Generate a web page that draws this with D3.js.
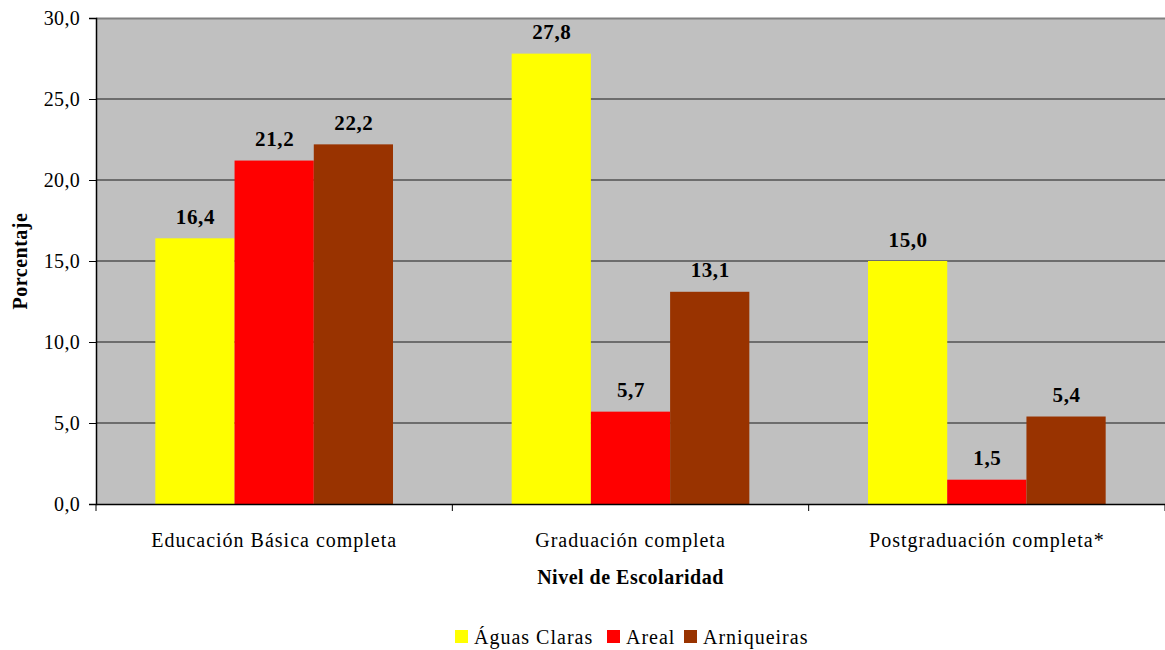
<!DOCTYPE html>
<html>
<head>
<meta charset="utf-8">
<script src="https://cdn.jsdelivr.net/npm/d3@7"></script>
<style>
  body { margin: 0; background: #fff; }
  svg text { font-family: 'Liberation Serif', 'Times New Roman', Times, serif; fill: #000; }
</style>
</head>
<body>
<div id="chart"></div>
<script>
// Datos
const categorias = ['Educación Básica completa', 'Graduación completa', 'Postgraduación completa*'];
const series = ['Águas Claras', 'Areal', 'Arniqueiras'];
const valores = [
  [16.4, 21.2, 22.2],
  [27.8, 5.7, 13.1],
  [15.0, 1.5, 5.4]
];
const ticksY = [0, 5, 10, 15, 20, 25, 30];
const colores = ['#FFFF00', '#FF0000', '#993300'];

const FUENTE = "'Liberation Serif', 'Times New Roman', Times, serif";
const W = 1165, H = 650;
const margin = {top: 18, right: 0, bottom: 146, left: 96};
const width = W - margin.left - margin.right,
      height = H - margin.top - margin.bottom;

const fmt = v => v.toFixed(1).replace('.', ',');

let svg = d3.select('#chart').append('svg')
  .attr('width', W).attr('height', H)
  .attr('font-family', FUENTE);

let g = svg.append('g')
  .attr('transform', 'translate(' + margin.left + ',' + margin.top + ')');

let y = d3.scaleLinear().domain([0, 30]).range([height, 0]);
let x0 = d3.scaleBand().domain(categorias).range([0, width]).paddingInner(0).paddingOuter(0);
let x1 = d3.scaleBand().domain(series).range([x0.bandwidth() * 0.1665, x0.bandwidth() * 0.8335]);

// fondo
g.append('rect').attr('width', width).attr('height', height).attr('fill', '#C0C0C0');

// rejilla
g.selectAll('.grid').data(ticksY.filter(d => d > 0 && d < 30)).enter()
  .append('line')
  .attr('x1', 0).attr('x2', width)
  .attr('y1', d => y(d)).attr('y2', d => y(d))
  .attr('stroke', '#1a1a1a').attr('stroke-width', 1);

// borde superior
g.append('line').attr('x1', 0).attr('x2', width).attr('y1', 0.5).attr('y2', 0.5)
  .attr('stroke', '#808080').attr('stroke-width', 2);

// barras
let grupos = g.selectAll('.grupo').data(valores).enter().append('g')
  .attr('transform', (d, i) => 'translate(' + x0(categorias[i]) + ',0)');

grupos.selectAll('rect').data(d => d.map((v, j) => ({v: v, s: series[j], j: j}))).enter()
  .append('rect')
  .attr('x', d => x1(d.s))
  .attr('y', d => y(d.v))
  .attr('width', x1.bandwidth())
  .attr('height', d => height - y(d.v))
  .attr('fill', d => colores[d.j]);

grupos.selectAll('text').data(d => d.map((v, j) => ({v: v, s: series[j]}))).enter()
  .append('text')
  .attr('x', d => x1(d.s) + x1.bandwidth() / 2 + 0.5)
  .attr('y', d => y(d.v) - 14.5)
  .attr('text-anchor', 'middle')
  .attr('font-weight', 'bold')
  .attr('font-size', '21px')
  .attr('letter-spacing', '0.6px')
  .text(d => fmt(d.v));

// eje Y
let ejeY = g.append('g')
  .call(d3.axisLeft(y).tickValues(ticksY).tickSize(7).tickPadding(9).tickFormat(fmt));
ejeY.attr('font-family', FUENTE);
ejeY.select('.domain').attr('stroke', '#000').attr('stroke-width', 1.5);
ejeY.selectAll('text').attr('font-size', '20px').attr('dy', '0.34em').attr('letter-spacing', '0.3px');

// eje X
let ejeX = g.append('g').attr('transform', 'translate(0,' + height + ')')
  .call(d3.axisBottom(x0).tickSize(0).tickPadding(28.5));
ejeX.attr('font-family', FUENTE);
ejeX.select('.domain').attr('stroke', '#000').attr('stroke-width', 1.5);
ejeX.selectAll('text').attr('font-size', '20px').attr('letter-spacing', '1px');

// marcas entre categorías
g.selectAll('.sep').data(d3.range(categorias.length + 1)).enter()
  .append('line')
  .attr('x1', i => i * x0.step()).attr('x2', i => i * x0.step())
  .attr('y1', height).attr('y2', height + 7)
  .attr('stroke', '#000');

// títulos de ejes
g.append('text')
  .attr('x', width / 2).attr('y', height + 80)
  .attr('text-anchor', 'middle')
  .attr('font-weight', 'bold').attr('font-size', '20px')
  .attr('letter-spacing', '0.5px')
  .text('Nivel de Escolaridad');

svg.append('text')
  .attr('transform', 'translate(27,' + (margin.top + height / 2) + ') rotate(-90)')
  .attr('text-anchor', 'middle')
  .attr('font-weight', 'bold').attr('font-size', '20px')
  .attr('letter-spacing', '0.5px')
  .text('Porcentaje');

// leyenda
let leyenda = svg.append('g');
const posLeyenda = [455, 607, 684];
series.forEach((s, i) => {
  leyenda.append('rect')
    .attr('x', posLeyenda[i]).attr('y', 630)
    .attr('width', 13).attr('height', 13)
    .attr('fill', colores[i]);
  leyenda.append('text')
    .attr('x', posLeyenda[i] + 19).attr('y', 644)
    .attr('font-size', '20px')
    .attr('letter-spacing', '1px')
    .text(s);
});
</script>
</body>
</html>
